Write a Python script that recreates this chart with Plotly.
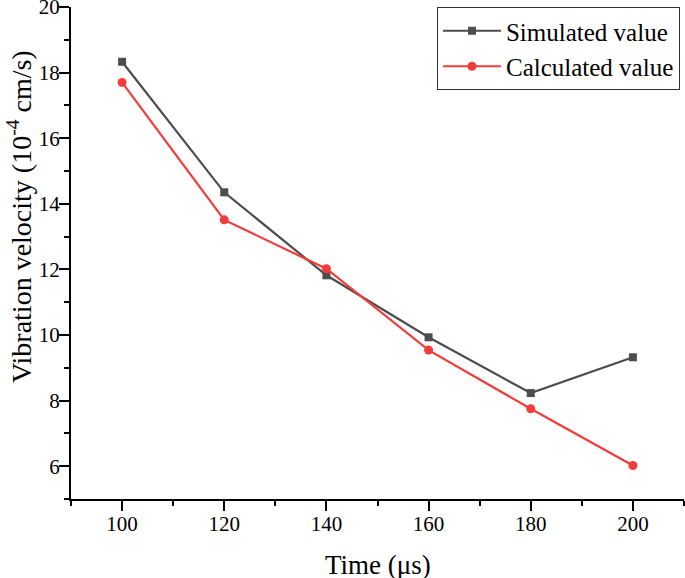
import plotly.graph_objects as go

time_us = [100, 120, 140, 160, 180, 200]
simulated = [18.33, 14.35, 11.82, 9.93, 8.23, 9.32]
calculated = [17.70, 13.51, 12.02, 9.54, 7.75, 6.02]

FONT = "Liberation Serif, Times New Roman, serif"

fig = go.Figure()
fig.add_trace(go.Scatter(
    x=time_us, y=simulated, mode="lines+markers", name="Simulated value",
    line=dict(color="#4d4d4d", width=2.2),
    marker=dict(symbol="square", size=8, color="#4d4d4d"),
))
fig.add_trace(go.Scatter(
    x=time_us, y=calculated, mode="lines+markers", name="Calculated value",
    line=dict(color="#f23c3c", width=2.2),
    marker=dict(symbol="circle", size=9, color="#f23c3c"),
))

axis_common = dict(
    showgrid=False, zeroline=False, showline=True, linecolor="black", linewidth=2,
    ticks="outside", ticklen=10, tickwidth=2, tickcolor="black",
    tickfont=dict(family=FONT, size=21, color="black"),
    mirror=False, automargin=False, ticklabeloverflow="allow",
    ticklabelstandoff=-5,
)

fig.update_layout(
    width=685, height=578,
    margin=dict(l=71, r=1, t=7, b=79),
    paper_bgcolor="white", plot_bgcolor="white",
    font=dict(family=FONT, color="black"),
    showlegend=True,
    legend=dict(
        x=0.597, y=1.0, xanchor="left", yanchor="top",
        bordercolor="#333333", borderwidth=1, bgcolor="white",
        font=dict(family=FONT, size=25, color="black"),
        tracegroupgap=0, itemwidth=58,
    ),
    xaxis=dict(
        range=[90, 210], dtick=20, tick0=0,
        minor=dict(dtick=10, tick0=0, ticks="outside", ticklen=5, tickwidth=2, tickcolor="black"),
        **axis_common,
    ),
    yaxis=dict(
        range=[5, 20], dtick=2, tick0=0,
        minor=dict(dtick=1, tick0=0, ticks="outside", ticklen=5, tickwidth=2, tickcolor="black"),
        **axis_common,
    ),
    annotations=[
        dict(text="Time (μs)", xref="paper", yref="paper", x=0.5, y=-0.1335,
             xanchor="center", yanchor="middle", showarrow=False,
             font=dict(family=FONT, size=27, color="black")),
        dict(text="Vibration velocity (10<sup>-4</sup> cm/s)", xref="paper", yref="paper",
             x=-0.085, y=0.575, xanchor="center", yanchor="middle", textangle=-90,
             showarrow=False, font=dict(family=FONT, size=28, color="black")),
    ],
)

fig.write_html("out.html", config={"displayModeBar": False},
               post_script="document.body.style.margin='0';")
